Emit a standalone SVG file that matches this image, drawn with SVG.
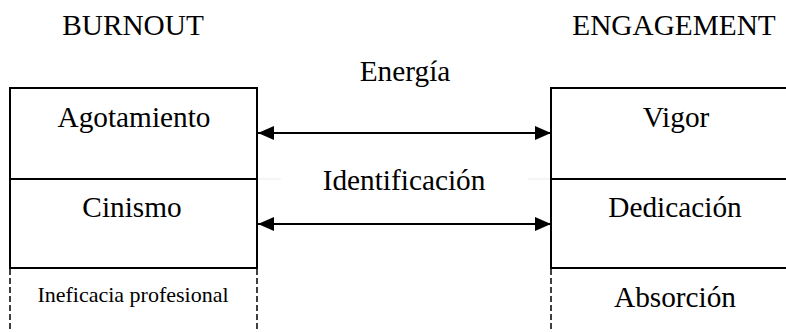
<svg xmlns="http://www.w3.org/2000/svg" width="786" height="332" viewBox="0 0 786 332">
<style>
text{fill:#000;text-anchor:middle}
.big{font-size:29.3px}
.small{font-size:22px}
.box{fill:#fff;stroke:#000;stroke-width:2}
.dash{stroke:#000;stroke-width:1.5;stroke-dasharray:6 3;fill:none}
.arr{stroke:#000;stroke-width:2;fill:none;marker-start:url(#ah);marker-end:url(#ah)}
.faint{stroke:#ebebeb;stroke-width:1}
</style>
<defs>
<marker id="ah" viewBox="0 0 16 14" refX="16" refY="7" markerWidth="16" markerHeight="14" markerUnits="userSpaceOnUse" orient="auto-start-reverse">
<path d="M0,0 L16,7 L0,14 z" fill="#000"/>
</marker>
</defs>
<rect width="786" height="332" fill="#fff"/>
<g font-family="Liberation Serif, Times New Roman, DejaVu Serif, serif">
<text class="big" x="133" y="35">BURNOUT</text>
<text class="big" x="674" y="35">ENGAGEMENT</text>
<g id="connectors">
<line class="faint" x1="258" y1="179" x2="281" y2="179"/>
<line class="faint" x1="528" y1="179" x2="550" y2="179"/>
<line class="arr" x1="258" y1="133" x2="551" y2="133"/>
<line class="arr" x1="258" y1="224" x2="551" y2="224"/>
<text class="big" x="405" y="81">Energía</text>
<text class="big" x="404" y="190">Identificación</text>
</g>
<g id="agotamiento">
<rect class="box" x="10" y="88" width="247" height="91"/>
<text class="big" x="134" y="127">Agotamiento</text>
</g>
<g id="cinismo">
<rect class="box" x="10" y="179" width="247" height="89"/>
<text class="big" x="132" y="217">Cinismo</text>
</g>
<g id="ineficacia">
<line class="dash" x1="10" y1="269" x2="10" y2="332"/>
<line class="dash" x1="257" y1="269" x2="257" y2="332"/>
<text class="small" x="133" y="302">Ineficacia profesional</text>
</g>
<g id="vigor">
<rect class="box" x="551" y="88" width="250" height="91"/>
<text class="big" x="676" y="127">Vigor</text>
</g>
<g id="dedicacion">
<rect class="box" x="551" y="179" width="250" height="89"/>
<text class="big" x="675" y="217">Dedicación</text>
</g>
<g id="absorcion">
<line class="dash" x1="551" y1="269" x2="551" y2="332"/>
<text class="big" x="675" y="307">Absorción</text>
</g>
</g>
</svg>
